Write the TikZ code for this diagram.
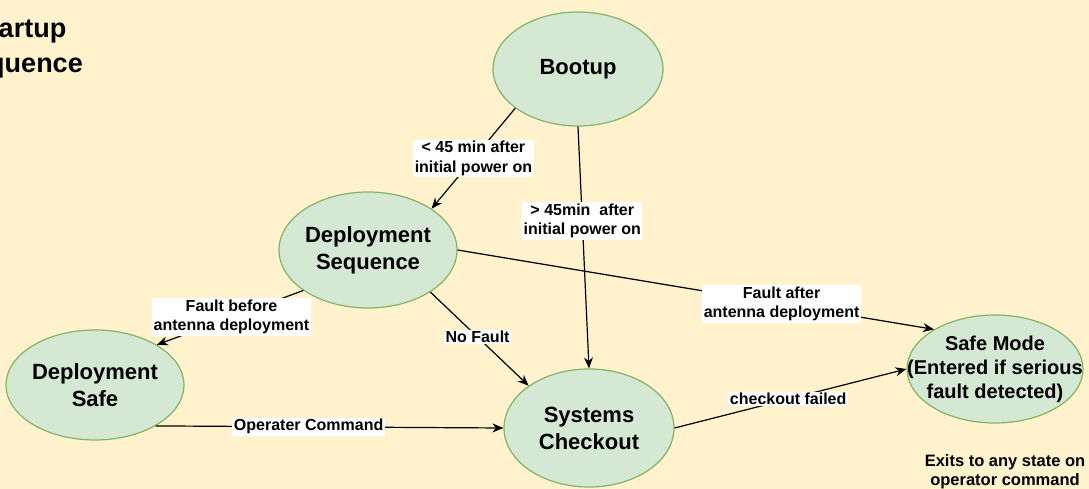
\documentclass[tikz,border=0pt]{standalone}
\usepackage{fontspec}
\setmainfont{Liberation Sans}
\usetikzlibrary{shapes.geometric,arrows.meta}
\definecolor{bgyellow}{HTML}{FFF2CC}
\definecolor{stfill}{HTML}{D5E8D4}
\definecolor{stdraw}{HTML}{82B366}
\tikzset{
  state/.style={ellipse, fill=stfill, draw=stdraw, line width=1.2pt, inner sep=0pt, align=center,
    font=\bfseries\fontsize{22}{27}\selectfont},
  edge/.style={line width=1.2pt, -{Stealth[length=11pt,width=9pt]}},
  lbl/.style={fill=white, inner sep=1.5pt, align=center, font=\bfseries\fontsize{16}{19.5}\selectfont}
}
\begin{document}
\begin{tikzpicture}[x=1pt,y=-1pt]
\useasboundingbox (0,0) rectangle (1089,489);
\fill[bgyellow] (0,0) rectangle (1089,489);
\begin{scope}
\clip (0,0) rectangle (1089,489);
\node[align=center, font=\bfseries\fontsize{27}{35}\selectfont] (title) at (19,48) {Startup\\Sequence};
\node[state, minimum width=170pt, minimum height=114pt] (boot) at (578,69) {Bootup};
\node[state, minimum width=176pt, minimum height=116pt] (dseq) at (368,250) {Deployment\\Sequence};
\node[state, minimum width=174pt, minimum height=110pt] (dsafe) at (95,385) {Deployment\\Safe};
\node[state, minimum width=170pt, minimum height=118pt] (sys) at (589,428) {Systems\\Checkout};
\node[state, minimum width=176pt, minimum height=108pt] (safe) at (995,369) {};
\node[align=center, font=\bfseries\fontsize{20}{24}\selectfont] (safetext) at (safe.center) {Safe Mode\\(Entered if serious\\fault detected)};
\node[align=center, font=\bfseries\fontsize{16.5}{19}\selectfont] (note) at (1005,472) {Exits to any state on\\operator command};

\draw[edge] (boot.212) -- node[lbl, pos=0.5] (l1) {< 45 min after\\initial power on} (dseq.33);
\draw[edge] (boot.south) -- node[lbl, pos=0.39] (l2) {> 45min\ \ after\\initial power on} (sys.north);
\draw[edge] (dseq.east) -- node[lbl, pos=0.68] (l3) {Fault after\\antenna deployment} (safe.147);
\draw[edge] (dseq.212) -- node[lbl, pos=0.49] (l4) {Fault before\\antenna deployment} (dsafe.33);
\draw[edge] (dseq.-34) -- node[lbl, pos=0.48] (l5) {No Fault} (sys.145);
\draw[edge] (dsafe.-34) -- node[lbl, pos=0.44] (l6) {Operater Command} (sys.west);
\draw[edge] (sys.east) -- node[lbl, pos=0.49] (l7) {checkout failed} (safe.west);
\end{scope}
\end{tikzpicture}
\end{document}
